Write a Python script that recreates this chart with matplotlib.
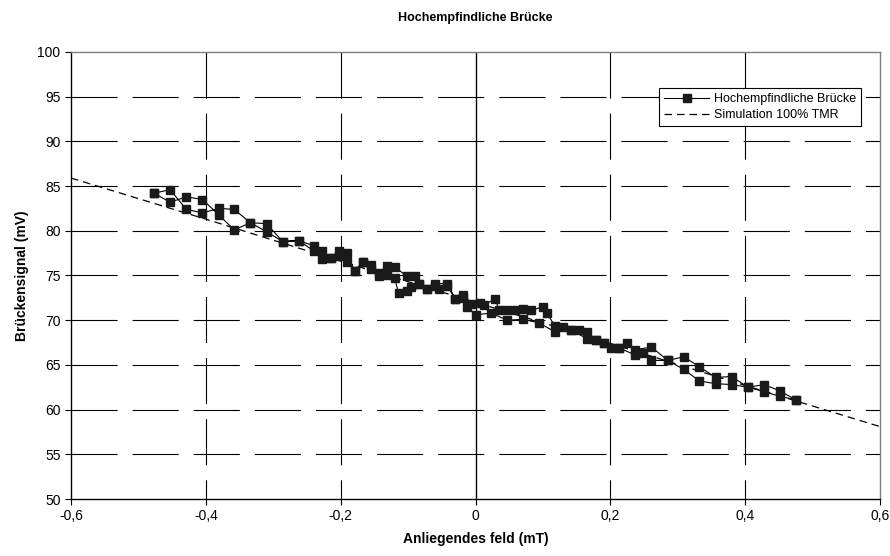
import numpy as np
import matplotlib
matplotlib.use("Agg")
from matplotlib import pyplot as plt
from matplotlib.ticker import FuncFormatter

plt.rcParams['font.family'] = ['Liberation Sans', 'DejaVu Sans']

# measured loop, upper branch (left to right)
up_x = [-0.477, -0.453, -0.429, -0.405, -0.381, -0.358, -0.334, -0.310, -0.286, -0.262,
        -0.239, -0.227, -0.215, -0.203, -0.191, -0.179, -0.167, -0.155, -0.143, -0.132,
        -0.120, -0.102, -0.090, -0.084, -0.072, -0.060, -0.042, -0.030, -0.019, -0.007,
        0.007, 0.013, 0.029, 0.035, 0.047, 0.059, 0.071, 0.083, 0.100, 0.106,
        0.118, 0.130, 0.142, 0.154, 0.166, 0.178, 0.190, 0.213, 0.225, 0.237,
        0.261, 0.285, 0.309, 0.332, 0.356, 0.380, 0.404, 0.428, 0.451, 0.475]
up_y = [84.2, 84.6, 82.4, 82.0, 82.5, 82.4, 80.9, 80.8, 78.8, 78.9,
        78.3, 77.7, 77.0, 77.7, 77.5, 75.5, 76.5, 76.2, 75.3, 76.1,
        76.0, 74.9, 74.9, 74.1, 73.5, 74.1, 74.1, 72.4, 72.8, 71.8,
        71.9, 71.7, 72.4, 71.1, 71.1, 71.1, 71.3, 71.1, 71.5, 70.8,
        69.3, 69.2, 68.9, 68.9, 68.7, 67.8, 67.4, 66.9, 67.5, 66.7,
        67.0, 65.5, 65.9, 64.8, 63.6, 63.7, 62.5, 62.8, 62.1, 61.1]

# lower branch (left to right)
lo_x = [-0.477, -0.453, -0.429, -0.405, -0.381, -0.358, -0.334, -0.310, -0.286, -0.262,
        -0.239, -0.227, -0.215, -0.203, -0.191, -0.179, -0.167, -0.155, -0.143, -0.132,
        -0.120, -0.114, -0.102, -0.096, -0.084, -0.072, -0.060, -0.054, -0.042, -0.030,
        -0.019, -0.013, 0.000, 0.023, 0.047, 0.071, 0.094, 0.118, 0.142, 0.166,
        0.178, 0.190, 0.201, 0.213, 0.237, 0.249, 0.261, 0.285, 0.309, 0.332,
        0.356, 0.380, 0.404, 0.428, 0.451, 0.475]
lo_y = [84.2, 83.2, 83.8, 83.5, 81.8, 80.1, 80.9, 79.9, 78.8, 78.9,
        77.7, 76.8, 77.0, 77.2, 76.5, 75.5, 76.5, 75.7, 74.9, 75.1,
        74.7, 73.0, 73.3, 73.7, 74.1, 73.5, 73.8, 73.5, 73.8, 72.4,
        72.5, 71.5, 70.6, 70.8, 70.0, 70.1, 69.7, 68.7, 68.9, 67.9,
        67.8, 67.4, 66.9, 66.9, 66.1, 66.3, 65.5, 65.5, 64.5, 63.2,
        62.9, 62.8, 62.5, 62.0, 61.5, 61.1]

# simulation 100% TMR
sim_x = [-0.6, -0.4, -0.2, 0.0, 0.2, 0.4, 0.6]
sim_y = [85.9, 81.3, 76.6, 72.0, 67.4, 62.7, 58.1]

x_ticks = [-0.6, -0.4, -0.2, 0, 0.2, 0.4, 0.6]
y_ticks = list(range(50, 101, 5))

# loop: lower branch forward, upper branch back
loop_x = lo_x + up_x[::-1]
loop_y = lo_y + up_y[::-1]

fig = plt.figure(figsize=(8.9, 5.56), dpi=100)
ax = fig.add_axes([0.0798, 0.1025, 0.909, 0.804])

dash = (0, (41.5, 13.5))
# horizontal grid, dashes start at the left
for yv in y_ticks[1:-1]:
    ax.plot([-0.6, 0.6], [yv, yv], color='black', lw=0.8, ls=dash, zorder=1)
# vertical grid, dashes start at the top
for xv in [-0.4, -0.2, 0.2, 0.4]:
    ax.plot([xv, xv], [100, 50], color='black', lw=0.8, ls=dash, zorder=1)
ax.axvline(0, color='black', lw=1.0, zorder=1)

ax.plot(loop_x, loop_y, color='black', lw=0.8, marker='s', markersize=6,
        markerfacecolor='#1a1a1a', markeredgecolor='#1a1a1a', zorder=3,
        label='Hochempfindliche Brücke')
ax.plot(sim_x, sim_y, color='black', lw=0.9, ls=(0, (6, 4)), zorder=2,
        label='Simulation 100% TMR')

ax.set_xlim(-0.6, 0.6)
ax.set_ylim(50, 100)
ax.set_xticks(x_ticks)
ax.set_yticks(y_ticks)
ax.xaxis.set_major_formatter(FuncFormatter(lambda v, p: ('%g' % round(v, 1)).replace('.', ',')))
ax.tick_params(labelsize=10, direction='out', length=4, width=0.8)

for s in ['top', 'right']:
    ax.spines[s].set_color('#808080')
    ax.spines[s].set_linewidth(1.0)
for s in ['left', 'bottom']:
    ax.spines[s].set_linewidth(1.0)

ax.set_xlabel('Anliegendes feld (mT)', fontsize=10, fontweight='bold', labelpad=6)
ax.set_ylabel('Brückensignal (mV)', fontsize=10, fontweight='bold', labelpad=6)
ax.set_title('Hochempfindliche Brücke', fontsize=9, fontweight='bold', pad=22)

leg = ax.legend(loc='upper right', bbox_to_anchor=(0.977, 0.919), fontsize=9,
                frameon=True, fancybox=False, framealpha=1, edgecolor='black',
                borderpad=0.4, handlelength=3.6, handletextpad=0.4, labelspacing=0.3,
                borderaxespad=0)
leg.get_frame().set_linewidth(0.8)

fig.savefig('out.png', dpi=100)
